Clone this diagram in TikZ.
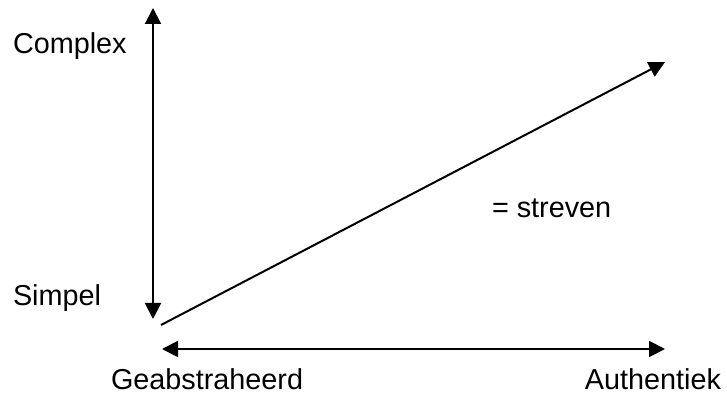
\documentclass[tikz,border=0pt]{standalone}
\usepackage{fontspec}
\setmainfont{Liberation Sans}
\usetikzlibrary{arrows.meta}
\begin{document}
\begin{tikzpicture}[x=0.5pt, y=-0.5pt, line width=1pt, line join=round,
  >={Triangle[length=8pt,width=8pt]},
  lbl/.style={inner sep=0pt, font=\fontsize{14.4}{17}\selectfont}]
				\useasboundingbox (0,0) rectangle (727,394);
				\path 
				(153,8) coordinate (top)
				(153,319) coordinate (bottom)
				(162,349) coordinate (left)
				(665,349) coordinate (right)
				(161,325) coordinate (start)
				(665,62) coordinate (goal)
				;
				\node[lbl, anchor=base west] (complex) at (12,54) {Complex};
				\node[lbl, anchor=base west] (simpel) at (12,306) {Simpel};
				\node[lbl, anchor=base west] (abstract) at (110,390) {Geabstraheerd};
				\node[lbl, anchor=base east] (authentic) at (722,390) {Authentiek};
				\node[lbl, anchor=base west] (strive) at (491,218) {= streven};
				\draw[<->] (top)--(bottom);
				\draw[<->] (left)--(right);
				\draw[->] (start)--(goal);
				
			\end{tikzpicture}
\end{document}
